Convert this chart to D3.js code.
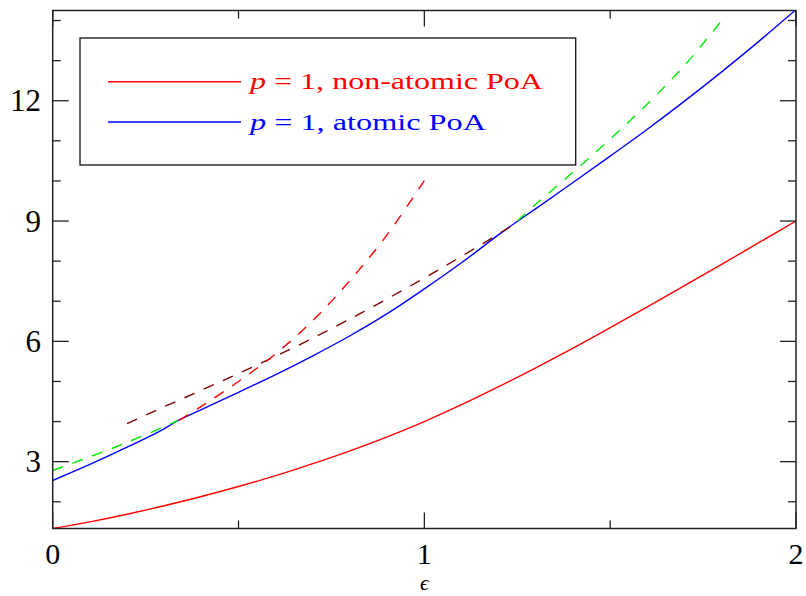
<!DOCTYPE html>
<html>
<head>
<meta charset="utf-8">
<script src="https://cdn.jsdelivr.net/npm/d3@7"></script>
<style>
  html, body { margin: 0; padding: 0; background: #fff; }
  svg { display: block; font-family: "Liberation Serif", "DejaVu Serif", serif; }
</style>
</head>
<body>
<div id="chart"></div>
<script>
// values
const redSolidEps = [0, 0.1, 0.2, 0.3, 0.4, 0.5, 0.6, 0.7, 0.8, 0.9, 1.0, 1.1, 1.2, 1.3, 1.4, 1.5, 1.6, 1.7, 1.8, 1.9, 2.0];
const redSolidVal = [1.333, 1.50, 1.69, 1.90, 2.13, 2.38, 2.65, 2.95, 3.27, 3.62, 4.00, 4.42, 4.87, 5.34, 5.83, 6.34, 6.86, 7.39, 7.92, 8.46, 9.00];

const blueEps = [0, 0.1, 0.2, 0.3, 0.336, 0.4, 0.5, 0.6, 0.7, 0.8, 0.9, 1.0, 1.1, 1.2, 1.25, 1.3, 1.4, 1.5, 1.6, 1.7, 1.8, 1.9, 2.0];
const blueVal = [2.53, 2.93, 3.36, 3.82, 4.02, 4.30, 4.73, 5.17, 5.64, 6.14, 6.69, 7.31, 7.96, 8.66, 8.99, 9.31, 9.96, 10.62, 11.29, 11.99, 12.72, 13.48, 14.27];

const greenLowEps = [0, 0.1, 0.2, 0.3, 0.336];
const greenLowVal = [2.78, 3.12, 3.48, 3.87, 4.02];
const greenHighEps = [1.25, 1.3, 1.4, 1.5, 1.6, 1.7, 1.8];
const greenHighVal = [9.00, 9.42, 10.22, 11.04, 11.92, 12.88, 14.00];

const brownEps = [0.2, 0.3, 0.4, 0.5, 0.6, 0.7, 0.8, 0.9, 1.0, 1.1, 1.2, 1.24];
const brownVal = [3.95, 4.37, 4.78, 5.20, 5.63, 6.08, 6.56, 7.06, 7.58, 8.12, 8.68, 8.91];

const redDashEps = [0.34, 0.4, 0.5, 0.6, 0.7, 0.8, 0.9, 1.0];
const redDashVal = [4.03, 4.38, 5.00, 5.69, 6.52, 7.52, 8.66, 10.01];

const xMajorTicks = [0, 1, 2];
const xMinorTicks = [0.5, 1.5];
const yMajorTicks = [3, 6, 9, 12];
const yMinorTicks = [2, 4, 5, 7, 8, 10, 11, 13, 14];

const legendItems = [
  { color: "#ff0000", rest: " = 1, non-atomic PoA" },
  { color: "#0000ff", rest: " = 1, atomic PoA" }
];

const W = 806, H = 596;
const L = 52.7, R = 796, T = 10.5, B = 528.5;

const svg = d3.select("#chart").append("svg").attr("width", W).attr("height", H);
const x = d3.scaleLinear().domain([0, 2]).range([L, R]);
const y = d3.scaleLinear().domain([4 / 3, 14.25]).range([B, T]);

svg.append("defs").append("clipPath").attr("id", "plot")
  .append("rect").attr("x", L).attr("y", T).attr("width", R - L).attr("height", B - T);

const line = d3.line().x(d => x(d[0])).y(d => y(d[1])).curve(d3.curveCatmullRom.alpha(0.5));
const zip = (a, b) => a.map((v, i) => [v, b[i]]);

const g = svg.append("g").attr("clip-path", "url(#plot)");

function drawSeries(eps, vals, color, dashed) {
  g.append("path").datum(zip(eps, vals))
    .attr("d", line).attr("fill", "none")
    .attr("stroke", color).attr("stroke-width", 1.4)
    .attr("stroke-dasharray", dashed ? "11,10" : null);
}

drawSeries(redSolidEps, redSolidVal, "#ff0000", false);
drawSeries(blueEps, blueVal, "#0000ff", false);
drawSeries(greenLowEps, greenLowVal, "#00ee00", true);
drawSeries(greenHighEps, greenHighVal, "#00ee00", true);
drawSeries(brownEps, brownVal, "#800000", true);
drawSeries(redDashEps, redDashVal, "#ff0000", true);

// frame
svg.append("rect").attr("x", L).attr("y", T).attr("width", R - L).attr("height", B - T)
  .attr("fill", "none").attr("stroke", "#222").attr("stroke-width", 1.5);

// ticks on all four sides
const ticks = svg.append("g").attr("stroke", "#222").attr("stroke-width", 1.3);
function xTicks(vals, len) {
  vals.forEach(v => {
    ticks.append("line").attr("x1", x(v)).attr("x2", x(v)).attr("y1", B).attr("y2", B - len);
    ticks.append("line").attr("x1", x(v)).attr("x2", x(v)).attr("y1", T).attr("y2", T + len);
  });
}
function yTicks(vals, len) {
  vals.forEach(v => {
    ticks.append("line").attr("x1", L).attr("x2", L + len).attr("y1", y(v)).attr("y2", y(v));
    ticks.append("line").attr("x1", R).attr("x2", R - len).attr("y1", y(v)).attr("y2", y(v));
  });
}
xTicks(xMajorTicks, 16);
xTicks(xMinorTicks, 8);
yTicks(yMajorTicks, 16);
yTicks(yMinorTicks, 8);

// tick labels
svg.append("g").selectAll("text").data(xMajorTicks).join("text")
  .attr("x", d => x(d)).attr("y", 564).attr("text-anchor", "middle")
  .attr("font-size", 30).text(d => d);
svg.append("g").selectAll("text").data(yMajorTicks).join("text")
  .attr("x", 41).attr("y", d => y(d) + 10.5).attr("text-anchor", "end")
  .attr("font-size", 31).text(d => d);

svg.append("text").attr("x", x(1)).attr("y", 590).attr("text-anchor", "middle")
  .attr("font-size", 22).attr("font-style", "italic").text("\u03F5");

// legend
svg.append("rect").attr("x", 80).attr("y", 38).attr("width", 495.7).attr("height", 127)
  .attr("fill", "#fff").attr("stroke", "#111").attr("stroke-width", 1.3);

const lg = svg.append("g").selectAll("g").data(legendItems).join("g")
  .attr("transform", (d, i) => `translate(0,${81.7 + i * 40.3})`);
lg.append("line").attr("x1", 108).attr("x2", 241).attr("y1", 0).attr("y2", 0)
  .attr("stroke", d => d.color).attr("stroke-width", 1.4);
const lt = lg.append("text").attr("x", 250).attr("y", 7.5)
  .attr("font-size", 24).attr("fill", d => d.color)
  .attr("textLength", (d, i) => i === 0 ? 293 : 236).attr("lengthAdjust", "spacingAndGlyphs");
lt.append("tspan").attr("font-style", "italic").text("p");
lt.append("tspan").text(d => d.rest);
</script>
</body>
</html>
